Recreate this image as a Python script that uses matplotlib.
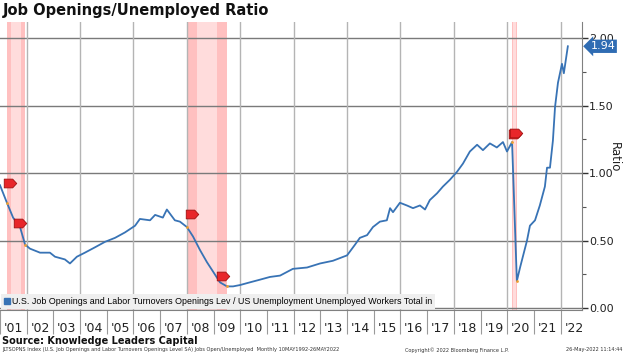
import matplotlib
matplotlib.use('Agg')
import matplotlib.pyplot as plt
import numpy as np
from matplotlib.lines import Line2D
from matplotlib.path import Path
from matplotlib.ticker import FixedLocator, MultipleLocator
from matplotlib.transforms import blended_transform_factory

# series (decimal year, ratio)
dates = [2001.00, 2001.26, 2001.49, 2001.75, 2001.94, 2002.12, 2002.50, 2002.87,
         2003.06, 2003.43, 2003.62, 2003.88, 2004.18, 2004.56, 2004.93, 2005.31,
         2005.68, 2006.06, 2006.24, 2006.62, 2006.81, 2007.10, 2007.25, 2007.55,
         2007.74, 2008.00, 2008.23, 2008.49, 2008.75, 2008.98, 2009.24, 2009.50,
         2009.73, 2009.99, 2010.36, 2010.74, 2011.11, 2011.49, 2011.97, 2012.50,
         2012.99, 2013.47, 2014.00, 2014.30, 2014.48, 2014.75, 2014.97, 2015.23,
         2015.49, 2015.61, 2015.72, 2015.98, 2016.24, 2016.47, 2016.73, 2016.92,
         2017.10, 2017.37, 2017.59, 2017.85, 2018.12, 2018.34, 2018.60, 2018.87,
         2019.09, 2019.35, 2019.61, 2019.84, 2019.99, 2020.18, 2020.36, 2020.48,
         2020.74, 2020.85, 2021.04, 2021.22, 2021.41, 2021.49, 2021.60, 2021.71,
         2021.79, 2021.90, 2022.05, 2022.12, 2022.27]
ratio = [0.91, 0.78, 0.67, 0.60, 0.47, 0.44, 0.41, 0.41,
         0.38, 0.36, 0.33, 0.38, 0.41, 0.45, 0.49, 0.52,
         0.56, 0.61, 0.66, 0.65, 0.69, 0.67, 0.73, 0.65,
         0.64, 0.60, 0.53, 0.43, 0.34, 0.27, 0.19, 0.16,
         0.16, 0.17, 0.19, 0.21, 0.23, 0.24, 0.29, 0.30,
         0.33, 0.35, 0.39, 0.47, 0.52, 0.54, 0.60, 0.64,
         0.65, 0.74, 0.71, 0.78, 0.76, 0.74, 0.76, 0.73,
         0.80, 0.85, 0.90, 0.95, 1.01, 1.07, 1.16, 1.21,
         1.17, 1.22, 1.19, 1.23, 1.16, 1.23, 0.20, 0.30,
         0.50, 0.61, 0.65, 0.76, 0.90, 1.04, 1.04, 1.24,
         1.49, 1.67, 1.81, 1.74, 1.94]
last_value = 1.94

recessions = [(2001.26, 2001.94), (2008.00, 2009.50), (2020.18, 2020.36)]
tag_x = [2001.37, 2001.75, 2008.19, 2009.35, 2020.29, 2020.34]
tag_y = [0.93, 0.63, 0.70, 0.24, 1.29, 1.30]

years = list(range(2001, 2023))
year_labels = ["'%02d" % (y % 100) for y in years]

blue = '#3873b5'

fig = plt.figure(figsize=(6.24, 3.53), dpi=100)
ax = fig.add_axes([0.0, 43 / 353, 582 / 624, 288 / 353])
ax.set_xlim(2001.0, 2022.8)
ax.set_ylim(-0.015, 2.12)

for start, end in recessions:
    ax.axvspan(start, end, color='#ffc0c0', lw=0, zorder=0)
    ax.axvspan(start + (end - start) * 0.25, end - (end - start) * 0.25,
               color='#ffdcdc', lw=0, zorder=0)

for yv in [0.0, 0.5, 1.0, 1.5, 2.0]:
    ax.axhline(yv, color='#7a7a7a', lw=1.0, zorder=1)
for xv in range(2002, 2023, 2):
    ax.axvline(xv, color='#b4b4b4', lw=1.0, zorder=1)

ax.plot(dates, ratio, color=blue, lw=1.3, zorder=3)

edge_x = [d for r in recessions for d in r]
ax.plot(edge_x, np.interp(edge_x, dates, ratio), 'o', ms=2, color='#f0a030',
        mec='none', zorder=4)

tag = Path([(-1.0, -0.7), (0.35, -0.7), (1.0, 0.0), (0.35, 0.7), (-1.0, 0.7), (-1.0, -0.7)],
           [Path.MOVETO, Path.LINETO, Path.LINETO, Path.LINETO, Path.LINETO, Path.CLOSEPOLY])
ax.plot(tag_x, tag_y, ls='none', marker=tag, ms=9, mfc='#e8262a', mec='#a01010',
        mew=0.6, zorder=5)

# axes styling
for side in ['top', 'left']:
    ax.spines[side].set_visible(False)
ax.spines['right'].set_color('#808080')
ax.spines['bottom'].set_color('#808080')

ax.yaxis.tick_right()
ax.yaxis.set_major_locator(MultipleLocator(0.5))
ax.yaxis.set_minor_locator(MultipleLocator(0.25))
ax.set_yticklabels(['%.2f' % v for v in ax.get_yticks()])
ax.tick_params(axis='y', which='major', length=4, width=1, color='#333333',
               labelsize=8, pad=1, labelcolor='#222222')
ax.tick_params(axis='y', which='minor', length=3, width=0.8, color='#555555')
ax.set_ylim(-0.015, 2.12)
ax.yaxis.set_label_position('right')
ax.set_ylabel('Ratio', rotation=270, fontsize=8.5, color='#222222', va='center')
ax.yaxis.set_label_coords(614 / 582, 0.53)

ax.xaxis.set_major_locator(FixedLocator(list(range(2001, 2024))))
ax.xaxis.set_minor_locator(FixedLocator([y + 0.5 for y in years]))
ax.xaxis.set_major_formatter(plt.NullFormatter())
ax.xaxis.set_minor_formatter(plt.FixedFormatter(year_labels))
ax.tick_params(axis='x', which='major', length=17, width=0.8, color='#9a9a9a')
ax.tick_params(axis='x', which='minor', length=0, labelsize=9, pad=9,
               labelcolor='#222222')

# value tag on the right
trans = blended_transform_factory(ax.transAxes, ax.transData)
ax.annotate('%.2f' % last_value, xy=(1.0, last_value), xycoords=trans,
            xytext=(6, 0), textcoords='offset points', va='center', ha='left',
            fontsize=8, color='white',
            bbox=dict(boxstyle='larrow,pad=0.15', fc='#2f6cb3', ec='none'),
            annotation_clip=False, zorder=7)

# legend strip
handle = Line2D([], [], ls='none', marker='s', ms=4, color=blue)
leg = ax.legend([handle], ['U.S. Job Openings and Labor Turnovers Openings Lev / '
                           'US Unemployment Unemployed Workers Total in'],
                loc='lower left', bbox_to_anchor=(0.0, 0.0), frameon=True,
                fancybox=False, framealpha=1, handlelength=0.6, handletextpad=0.3,
                borderpad=0.35, borderaxespad=0.1,
                prop={'family': 'Liberation Sans', 'size': 6.4})
leg.get_frame().set_facecolor('#efefef')
leg.get_frame().set_edgecolor('none')
leg.set_zorder(6)

fig.text(0.004, 1 - 10 / 353, 'Job Openings/Unemployed Ratio', fontsize=10.5,
         fontweight='bold', va='center', ha='left', color='#111111')
fig.text(0.004, 1 - 341 / 353, 'Source: Knowledge Leaders Capital', fontsize=7,
         fontweight='bold', va='center', ha='left', color='#111111')
fig.text(0.004, 1 - 350 / 353,
         'JLTSOPNS Index (U.S. Job Openings and Labor Turnovers Openings Level SA) '
         'Jobs Open/Unemployed  Monthly 10MAY1992-26MAY2022',
         fontsize=3.6, va='center', ha='left', color='#333333')
fig.text(405 / 624, 1 - 350 / 353, 'Copyright\u00a9 2022 Bloomberg Finance L.P.',
         fontsize=3.6, va='center', ha='left', color='#333333')
fig.text(622 / 624, 1 - 350 / 353, '26-May-2022 11:14:44',
         fontsize=3.6, va='center', ha='right', color='#333333')

fig.savefig('out.png', dpi=100)
